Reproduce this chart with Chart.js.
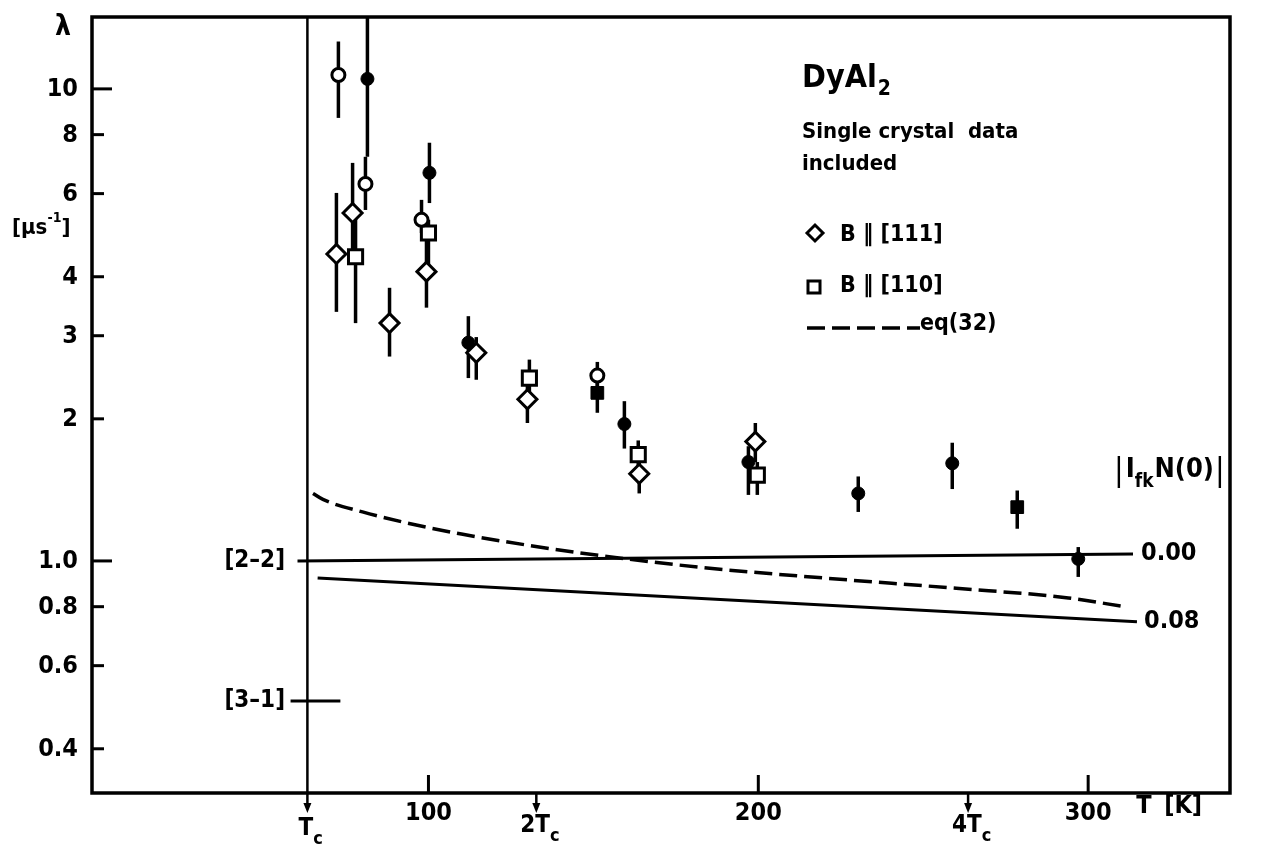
<!DOCTYPE html>
<html><head><meta charset="utf-8">
<script src="https://cdn.jsdelivr.net/npm/chart.js@4.4.1/dist/chart.umd.min.js"></script>
<style>html,body{margin:0;padding:0;background:#fff;}#wrap{width:1276px;height:850px;}</style>
</head><body><div id="wrap"><canvas id="c" width="1276" height="850"></canvas></div>
<script>
// ---- axes ----
const X_MIN = -2, X_MAX = 343;
const Y_MIN = 0.3224, Y_MAX = 14.2;
const X_TICKS = [100, 200, 300];
const X_TICK_LABELS = ['100', '200', '300'];
const Y_TICKS = [0.4, 0.6, 0.8, 1, 2, 3, 4, 6, 8, 10];
const Y_TICK_LABELS = ['0.4', '0.6', '0.8', '1.0', '2', '3', '4', '6', '8', '10'];
const TC = 63.3;
const TC_MARKS = [63.3, 132.7, 263.6];
const TC_MARK_PREFIX = ['', '2', '4'];

// ---- data: open circles ----
const OC_T  = [72.7, 80.9, 97.9, 151.2];
const OC_L  = [10.7, 6.29, 5.28, 2.47];
const OC_HI = [12.6, 7.18, 5.82, 2.64];
const OC_LO = [8.68, 5.54, 4.95, 2.27];
// ---- filled circles ----
const FC_T  = [81.5, 100.3, 112.1, 159.4, 197.0, 230.3, 258.8, 297.0];
const FC_L  = [10.5, 6.64, 2.90, 1.95, 1.62, 1.39, 1.61, 1.01];
const FC_HI = [20.0, 7.69, 3.30, 2.18, 1.75, 1.51, 1.78, 1.07];
const FC_LO = [7.18, 5.73, 2.44, 1.73, 1.38, 1.27, 1.42, 0.925];
// ---- filled squares ----
const FS_T  = [151.2, 278.5];
const FS_L  = [2.27, 1.30];
const FS_HI = [2.47, 1.41];
const FS_LO = [2.06, 1.17];
// ---- diamonds B || [111] ----
const DM_T  = [72.1, 77.0, 88.2, 99.4, 114.5, 130.0, 163.9, 199.1];
const DM_L  = [4.47, 5.46, 3.19, 4.10, 2.76, 2.20, 1.53, 1.79];
const DM_HI = [6.02, 6.97, 3.79, 4.95, 2.98, 2.44, 1.68, 1.96];
const DM_LO = [3.37, 4.41, 2.71, 3.44, 2.42, 1.96, 1.39, 1.62];
// ---- open squares B || [110] ----
const SQ_T  = [77.9, 100.0, 130.6, 163.6, 199.7];
const SQ_L  = [4.41, 4.95, 2.44, 1.68, 1.52];
const SQ_HI = [5.46, 5.28, 2.67, 1.80, 1.62];
const SQ_LO = [3.19, 4.10, 2.20, 1.53, 1.38];
// ---- eq(32) dashed curve ----
const EQ_T = [65, 68, 80, 92, 110, 130, 146, 182, 220, 260, 294, 311];
const EQ_L = [1.39, 1.35, 1.27, 1.21, 1.14, 1.08, 1.04, 0.97, 0.92, 0.875, 0.835, 0.80];
// ---- |I_fk N(0)| lines ----
const L000_T = [60.3, 313.6];
const L000_L = [1.0, 1.035];
const L008_T = [66.4, 314.8];
const L008_L = [0.920, 0.743];
const L31_T = [58.2, 73.3];
const L31_L = [0.505, 0.505];

const FONT = "'Liberation Sans Narrow','DejaVu Sans Condensed','Liberation Sans',sans-serif";

const pts = (t, l) => t.map((v, i) => ({x: v, y: l[i]}));
const ERR = [[OC_T, OC_HI, OC_LO], [FC_T, FC_HI, FC_LO], [FS_T, FS_HI, FS_LO], [DM_T, DM_HI, DM_LO], [SQ_T, SQ_HI, SQ_LO]];

const errPlugin = {
  id: 'errbars',
  beforeDatasetsDraw(chart) {
    const {ctx, chartArea: a, scales: {x, y}} = chart;
    ctx.save();
    ctx.beginPath(); ctx.rect(a.left, a.top, a.right - a.left, a.bottom - a.top); ctx.clip();
    ctx.strokeStyle = '#000'; ctx.lineWidth = 3.5; ctx.lineCap = 'butt';
    ERR.forEach(([t, hi, lo]) => t.forEach((v, i) => {
      const px = x.getPixelForValue(v);
      ctx.beginPath();
      ctx.moveTo(px, y.getPixelForValue(hi[i]));
      ctx.lineTo(px, y.getPixelForValue(lo[i]));
      ctx.stroke();
    }));
    ctx.restore();
  }
};

function txt(ctx, s, x, y, size, align, weight) {
  ctx.font = (weight || 'bold') + ' ' + size + 'px ' + FONT;
  ctx.textAlign = align || 'left';
  ctx.textBaseline = 'middle';
  ctx.fillText(s, x, y);
  return ctx.measureText(s).width;
}

const decorPlugin = {
  id: 'decor',
  afterDraw(chart) {
    const {ctx, chartArea: a, scales: {x, y}} = chart;
    ctx.save();
    ctx.strokeStyle = '#000'; ctx.fillStyle = '#000';
    // frame
    ctx.lineWidth = 3.5;
    ctx.strokeRect(a.left, a.top, a.right - a.left, a.bottom - a.top);
    // y ticks (inward) and labels
    Y_TICKS.forEach((v, i) => {
      const py = y.getPixelForValue(v);
      const len = (v === 1 || v === 10) ? 20 : 12;
      ctx.lineWidth = 3;
      ctx.beginPath(); ctx.moveTo(a.left, py); ctx.lineTo(a.left + len, py); ctx.stroke();
      txt(ctx, Y_TICK_LABELS[i], a.left - 14, py + 1, 25, 'right');
    });
    // x ticks (inward) and labels
    X_TICKS.forEach((v, i) => {
      const px = x.getPixelForValue(v);
      ctx.lineWidth = 3;
      ctx.beginPath(); ctx.moveTo(px, a.bottom); ctx.lineTo(px, a.bottom - 18); ctx.stroke();
      txt(ctx, X_TICK_LABELS[i], px, a.bottom + 20, 25, 'center');
    });
    // Tc arrows and labels
    TC_MARKS.forEach((v, i) => {
      const px = x.getPixelForValue(v);
      ctx.lineWidth = 2.5;
      ctx.beginPath(); ctx.moveTo(px, a.bottom); ctx.lineTo(px, a.bottom + 16); ctx.stroke();
      ctx.beginPath(); ctx.moveTo(px - 4, a.bottom + 10); ctx.lineTo(px + 4, a.bottom + 10); ctx.lineTo(px, a.bottom + 20); ctx.closePath(); ctx.fill();
      const ly = a.bottom + (i === 0 ? 36 : 33);
      let xx = px - (TC_MARK_PREFIX[i] ? 16 : 9);
      if (TC_MARK_PREFIX[i]) xx += txt(ctx, TC_MARK_PREFIX[i], xx, ly, 24, 'left');
      xx += txt(ctx, 'T', xx, ly, 24, 'left');
      txt(ctx, 'c', xx, ly + 10, 18, 'left');
    });
    // T [K]
    const x300 = x.getPixelForValue(300);
    txt(ctx, 'T', x300 + 48, a.bottom + 13, 25, 'left');
    txt(ctx, '[K]', x300 + 76, a.bottom + 13, 25, 'left');
    // y axis title
    txt(ctx, 'λ', 63, 28, 28, 'center');
    let xx = 12;
    xx += txt(ctx, '[μs', xx, 228, 22, 'left');
    xx += txt(ctx, '-1', xx, 218, 14, 'left');
    txt(ctx, ']', xx, 228, 22, 'left');
    // line labels
    txt(ctx, '[2\u20132]', 285, y.getPixelForValue(1.0), 24, 'right');
    txt(ctx, '[3\u20131]', 285, y.getPixelForValue(L31_L[0]), 24, 'right');
    txt(ctx, '0.00', x.getPixelForValue(L000_T[1]) + 8, y.getPixelForValue(L000_L[1]), 25, 'left');
    txt(ctx, '0.08', x.getPixelForValue(L008_T[1]) + 7, y.getPixelForValue(L008_L[1]), 25, 'left');
    // |I_fk N(0)|
    xx = 1114;
    xx += txt(ctx, '|', xx, 472, 32, 'left', 'normal');
    xx += txt(ctx, 'I', xx + 2, 470, 27, 'left') + 2;
    xx += txt(ctx, 'fk', xx, 482, 19, 'left');
    xx += txt(ctx, 'N(0)', xx + 1, 470, 27, 'left') + 1;
    txt(ctx, '|', xx + 1, 472, 32, 'left', 'normal');
    // legend block
    xx = 802;
    xx += txt(ctx, 'DyAl', xx, 79, 32, 'left');
    txt(ctx, '2', xx + 1, 90, 21, 'left');
    txt(ctx, 'Single crystal  data', 802, 132, 22, 'left');
    txt(ctx, 'included', 802, 164, 22, 'left');
    const H = Chart.helpers;
    ctx.lineWidth = 3; ctx.strokeStyle = '#000'; ctx.fillStyle = '#fff';
    H.drawPoint(ctx, {pointStyle: 'rectRot', radius: 8, borderWidth: 3}, 815, 233);
    ctx.fillStyle = '#fff';
    H.drawPoint(ctx, {pointStyle: 'rect', radius: 8.5, borderWidth: 3}, 814, 287);
    ctx.fillStyle = '#000';
    txt(ctx, 'B \u2016 [111]', 840, 235, 23, 'left');
    txt(ctx, 'B \u2016 [110]', 840, 286, 23, 'left');
    ctx.lineWidth = 3.5; ctx.setLineDash([18, 7]);
    ctx.beginPath(); ctx.moveTo(807, 328); ctx.lineTo(920, 328); ctx.stroke();
    ctx.setLineDash([]);
    txt(ctx, 'eq(32)', 920, 324, 23, 'left');
    ctx.restore();
  }
};

const lineDs = (data, extra) => Object.assign({type: 'line', data, showLine: true, pointRadius: 0, borderColor: '#000', borderWidth: 3.5, fill: false, tension: 0}, extra || {});

new Chart(document.getElementById('c'), {
  type: 'scatter',
  data: {
    datasets: [
      {data: pts(FS_T, FS_L), pointStyle: 'rect', pointRadius: 9, backgroundColor: '#000', borderColor: '#000', borderWidth: 1},
      {data: pts(FC_T, FC_L), pointStyle: 'circle', pointRadius: 6.5, backgroundColor: '#000', borderColor: '#000', borderWidth: 1},
      {data: pts(OC_T, OC_L), pointStyle: 'circle', pointRadius: 6.5, backgroundColor: '#fff', borderColor: '#000', borderWidth: 3},
      {data: pts(SQ_T, SQ_L), pointStyle: 'rect', pointRadius: 10, backgroundColor: '#fff', borderColor: '#000', borderWidth: 3},
      {data: pts(DM_T, DM_L), pointStyle: 'rectRot', pointRadius: 9.5, backgroundColor: '#fff', borderColor: '#000', borderWidth: 3},
      lineDs(pts(EQ_T, EQ_L), {borderDash: [18, 7], cubicInterpolationMode: 'monotone'}),
      lineDs(pts(L000_T, L000_L), {borderWidth: 3}),
      lineDs(pts(L008_T, L008_L), {borderWidth: 3}),
      lineDs(pts(L31_T, L31_L), {borderWidth: 3}),
      lineDs([{x: TC, y: Y_MIN}, {x: TC, y: Y_MAX}], {borderWidth: 2.5})
    ]
  },
  options: {
    responsive: false, animation: false, devicePixelRatio: 1,
    layout: {padding: {top: 17, right: 46, left: 92, bottom: 57}},
    plugins: {legend: {display: false}, tooltip: {enabled: false}},
    scales: {
      x: {type: 'linear', min: X_MIN, max: X_MAX, bounds: 'data', display: false},
      y: {type: 'logarithmic', min: Y_MIN, max: Y_MAX, bounds: 'data', display: false}
    }
  },
  plugins: [errPlugin, decorPlugin]
});
</script></body></html>
